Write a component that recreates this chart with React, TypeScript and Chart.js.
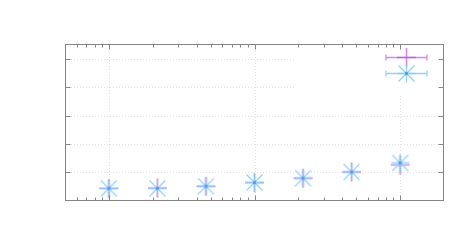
import React, { useEffect, useRef } from "react";
import { Chart, registerables } from "chart.js";

Chart.register(...registerables);

// ---- data ----
const xValues = [1, 2.154, 4.642, 10, 21.54, 46.42, 100];
const magentaY = [0.43, 0.44, 0.505, 0.63, 0.79, 1.01, 1.26];
const cyanY = [0.43, 0.43, 0.505, 0.635, 0.79, 1.01, 1.33];
const seriesNames = ["series A", "series B"];
const xMajorTicks = [1, 10, 100];
const yTicks = [1, 2, 3, 4, 5];
const xMin = 0.5;
const xMax = 200;
const yMin = 0;
const yMax = 5.5;

const MAGENTA = "rgba(180, 60, 220, 0.6)";
const CYAN = "rgba(135, 206, 250, 0.9)";
const CYAN_CORE = "rgb(90, 160, 232)";

function makePlus(): HTMLCanvasElement {
  const c = document.createElement("canvas");
  c.width = 21;
  c.height = 21;
  const g = c.getContext("2d")!;
  g.strokeStyle = MAGENTA;
  g.lineWidth = 1.6;
  g.beginPath();
  g.moveTo(1, 10.5);
  g.lineTo(20, 10.5);
  g.moveTo(10.5, 1);
  g.lineTo(10.5, 20);
  g.stroke();
  return c;
}

function makeStar(): HTMLCanvasElement {
  const c = document.createElement("canvas");
  c.width = 21;
  c.height = 21;
  const g = c.getContext("2d")!;
  g.strokeStyle = CYAN;
  g.lineWidth = 1.3;
  g.beginPath();
  g.moveTo(1.5, 10.5);
  g.lineTo(19.5, 10.5);
  g.moveTo(10.5, 1.5);
  g.lineTo(10.5, 19.5);
  g.moveTo(2.5, 2.5);
  g.lineTo(18.5, 18.5);
  g.moveTo(18.5, 2.5);
  g.lineTo(2.5, 18.5);
  g.stroke();
  g.fillStyle = CYAN_CORE;
  g.fillRect(9, 9, 3, 3);
  return c;
}

function minorTicks(): number[] {
  const out: number[] = [];
  for (let d = 0.1; d <= 1000; d *= 10) {
    for (let m = 2; m <= 9; m++) {
      const v = Math.round(m * d * 1000) / 1000;
      if (v > xMin && v < xMax) out.push(v);
    }
  }
  return out;
}

export default function App() {
  const ref = useRef<HTMLCanvasElement | null>(null);

  useEffect(() => {
    if (!ref.current) return;
    const plus = makePlus();
    const star = makeStar();
    const markers = [plus, star];
    const colors = [MAGENTA, CYAN];

    const gnuPlugin = {
      id: "gnuFrame",
      beforeDatasetsDraw(chart: any) {
        const { ctx, chartArea: a, scales } = chart;
        const xs = scales.x;
        const ys = scales.y;
        const keyLeft = a.right - 150;
        const keyBottom = a.top + 50;
        ctx.save();
        ctx.beginPath();
        ctx.rect(a.left, a.top, a.width, a.height);
        ctx.rect(keyLeft, a.top, a.right - keyLeft, keyBottom - a.top);
        ctx.clip("evenodd");
        ctx.strokeStyle = "#e2e2e2";
        ctx.lineWidth = 1;
        ctx.setLineDash([1, 2]);
        ctx.beginPath();
        for (const v of xMajorTicks) {
          const px = Math.round(xs.getPixelForValue(v)) + 0.5;
          ctx.moveTo(px, a.top);
          ctx.lineTo(px, a.bottom);
        }
        for (const v of yTicks) {
          const py = Math.round(ys.getPixelForValue(v)) + 0.5;
          ctx.moveTo(a.left, py);
          ctx.lineTo(a.right, py);
        }
        ctx.stroke();
        ctx.restore();
      },
      afterDatasetsDraw(chart: any) {
        const { ctx, chartArea: a, scales } = chart;
        const xs = scales.x;
        const ys = scales.y;
        // key samples
        ctx.save();
        for (let i = 0; i < markers.length; i++) {
          const cy = Math.round(a.top + 12 + i * 15.5) + 0.5;
          const cx = Math.round(a.right - 38.5) + 0.5;
          ctx.strokeStyle = colors[i];
          ctx.lineWidth = 1.3;
          ctx.beginPath();
          ctx.moveTo(cx - 20.5, cy);
          ctx.lineTo(cx + 20.5, cy);
          ctx.moveTo(cx - 20.5, cy - 3);
          ctx.lineTo(cx - 20.5, cy + 3);
          ctx.moveTo(cx + 20.5, cy - 3);
          ctx.lineTo(cx + 20.5, cy + 3);
          ctx.stroke();
          ctx.drawImage(markers[i], cx - 10.5, cy - 10.5);
        }
        ctx.restore();

        // frame
        ctx.save();
        const L = Math.round(a.left) + 0.5;
        const R = Math.round(a.right) - 0.5;
        const T = Math.round(a.top) - 0.5;
        const B = Math.round(a.bottom) - 0.5;
        ctx.strokeStyle = "#858585";
        ctx.lineWidth = 1;
        ctx.strokeRect(L, T, R - L, B - T);
        ctx.beginPath();
        for (const v of yTicks) {
          const py = Math.round(ys.getPixelForValue(v)) + 0.5;
          ctx.moveTo(L, py);
          ctx.lineTo(L + 5, py);
          ctx.moveTo(R, py);
          ctx.lineTo(R - 5, py);
        }
        for (const v of xMajorTicks) {
          const px = Math.round(xs.getPixelForValue(v)) + 0.5;
          ctx.moveTo(px, T);
          ctx.lineTo(px, T + 5);
          ctx.moveTo(px, B);
          ctx.lineTo(px, B - 5);
        }
        for (const v of minorTicks()) {
          const px = Math.round(xs.getPixelForValue(v)) + 0.5;
          ctx.moveTo(px, T);
          ctx.lineTo(px, T + 3);
          ctx.moveTo(px, B);
          ctx.lineTo(px, B - 3);
        }
        ctx.stroke();
        ctx.restore();
      },
    };

    const chart = new Chart(ref.current, {
      type: "scatter",
      data: {
        datasets: [
          {
            label: seriesNames[1],
            data: xValues.map((x, i) => ({ x, y: cyanY[i] })),
            pointStyle: star as any,
            pointRadius: 10,
            showLine: false,
          },
          {
            label: seriesNames[0],
            data: xValues.map((x, i) => ({ x, y: magentaY[i] })),
            pointStyle: plus as any,
            pointRadius: 10,
            showLine: false,
          },
        ],
      },
      options: {
        animation: false,
        responsive: false,
        layout: { padding: { left: 65, right: 28, top: 45, bottom: 49.5 } },
        plugins: { legend: { display: false }, tooltip: { enabled: false } },
        scales: {
          x: { type: "logarithmic", min: xMin, max: xMax, display: false },
          y: { type: "linear", min: yMin, max: yMax, display: false },
        },
      },
      plugins: [gnuPlugin],
    });
    return () => chart.destroy();
  }, []);

  return (
    <div style={{ position: "fixed", left: 0, top: 0, width: 472, height: 250, background: "#fff" }}>
      <canvas ref={ref} width={472} height={250} style={{ display: "block" }} />
    </div>
  );
}
